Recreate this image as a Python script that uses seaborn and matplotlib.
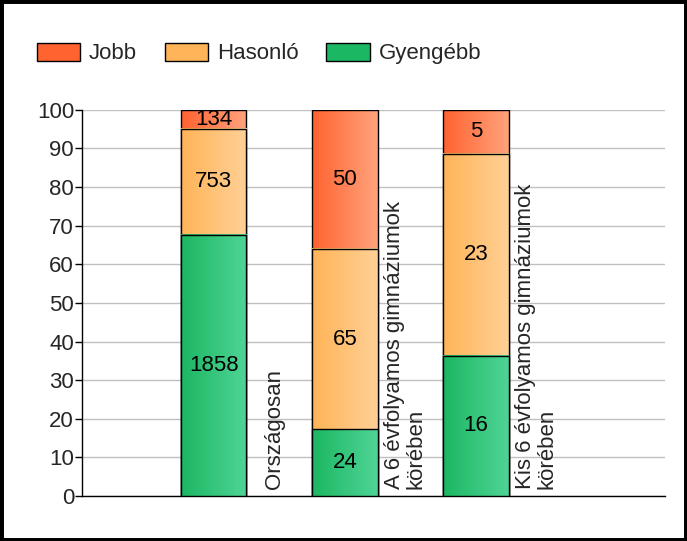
import numpy as np
import pandas as pd
import matplotlib
matplotlib.use("Agg")
import matplotlib.pyplot as plt
from matplotlib.colors import LinearSegmentedColormap
from matplotlib.patches import Rectangle, Patch
import seaborn as sns

# ─────────────────────────────────────────────────────────────
# DATA
# ─────────────────────────────────────────────────────────────
CATEGORIES = ["Országosan",
              "A 6 évfolyamos gimnáziumok\nkörében",
              "Kis 6 évfolyamos gimnáziumok\nkörében"]
SERIES     = ["Jobb", "Hasonló", "Gyengébb"]
GYENGEBB   = [1858, 24, 16]
HASONLO    = [753, 65, 23]
JOBB       = [134, 50, 5]
Y_TICKS    = list(range(0, 101, 10))

# left -> right gradient per series
GRADIENTS = {
    "Jobb":     ("#ff6330", "#ffa27c"),
    "Hasonló":  ("#ffb458", "#ffd096"),
    "Gyengébb": ("#1cb762", "#4fd496"),
}

sns.set_style("white")
plt.rcParams["font.family"] = ["Liberation Sans", "DejaVu Sans"]
FS = 16

counts = pd.DataFrame({"cat": CATEGORIES, "Gyengébb": GYENGEBB,
                       "Hasonló": HASONLO, "Jobb": JOBB})
totals = counts[SERIES].sum(axis=1)
pct = counts[SERIES].div(totals, axis=0) * 100
cum_g = pct["Gyengébb"]
cum_h = cum_g + pct["Hasonló"]
cum_j = cum_h + pct["Jobb"]

fig = plt.figure(figsize=(6.87, 5.41), dpi=100)
ax = fig.add_axes([0.120, 0.083, 0.848, 0.714])

# stacked bars drawn as overlapping cumulative totals
layers = [("Jobb", cum_j, cum_h), ("Hasonló", cum_h, cum_g),
          ("Gyengébb", cum_g, cum_g * 0)]
for k, (name, top, bottom) in enumerate(layers):
    df = pd.DataFrame({"cat": CATEGORIES, "val": top})
    n_before = len(ax.patches)
    sns.barplot(data=df, x="cat", y="val", color=GRADIENTS[name][0],
                width=0.5, ax=ax, zorder=2 + k)
    cmap = LinearSegmentedColormap.from_list(name, GRADIENTS[name])
    grad = np.linspace(0, 1, 64).reshape(1, -1)
    for p in ax.patches[n_before:]:
        x0, w, h = p.get_x(), p.get_width(), p.get_height()
        p.set_visible(False)
        ax.imshow(grad, cmap=cmap, aspect="auto", extent=[x0, x0 + w, 0, h],
                  zorder=2 + k, interpolation="bicubic")
        ax.add_patch(Rectangle((x0, 0), w, h, fill=False, edgecolor="black",
                               linewidth=1, zorder=2.5 + k))

# value labels + category labels (vertical, right of each bar)
for i in range(len(CATEGORIES)):
    for name, top, bottom in layers:
        ax.text(i, (top[i] + bottom[i]) / 2, str(counts[name][i]),
                ha="center", va="center", fontsize=FS, color="black",
                zorder=10)
    ax.text(i + 0.46, 1.8, CATEGORIES[i], rotation=90, ha="center",
            va="bottom", multialignment="left", fontsize=FS, zorder=10,
            linespacing=1.0)

ax.set_xlim(-1, 3.44)
ax.set_ylim(0, 100)
ax.set_yticks(Y_TICKS)
ax.set_yticklabels([str(t) for t in Y_TICKS], fontsize=FS)
ax.set_xticks([])
ax.set_xlabel("")
ax.set_ylabel("")
ax.yaxis.grid(True, color="#c0c0c0", linewidth=1)
ax.set_axisbelow(True)
ax.tick_params(axis="y", length=5, width=1, color="black", pad=1, left=True)
for s in ["top", "right"]:
    ax.spines[s].set_visible(False)
for s in ["left", "bottom"]:
    ax.spines[s].set_color("black")
    ax.spines[s].set_linewidth(1)

handles = [Patch(facecolor=GRADIENTS[n][0], edgecolor="black", linewidth=1,
                 label=n) for n in SERIES]
fig.legend(handles=handles, loc="center left", bbox_to_anchor=(0.054, 0.901),
           ncol=3, frameon=False, fontsize=FS, handlelength=1.94,
           handleheight=0.86, handletextpad=0.4, columnspacing=1.25,
           borderpad=0, borderaxespad=0)

fig.add_artist(Rectangle((0, 0), 1, 1, transform=fig.transFigure, fill=False,
                         edgecolor="black", linewidth=5))

fig.savefig("out.png", dpi=100)
